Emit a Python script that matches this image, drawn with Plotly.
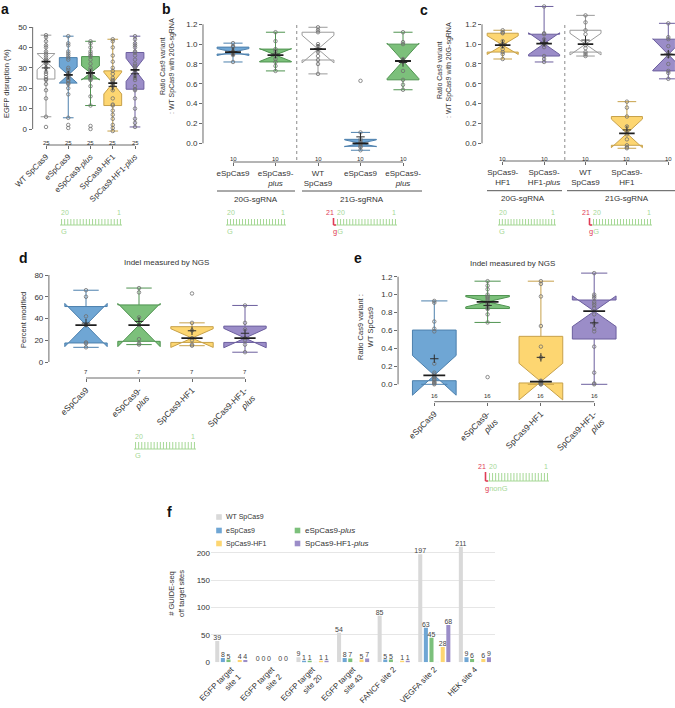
import numpy as np
import plotly.graph_objects as go

W, H = 675, 708
FONT = "Liberation Sans, Arial, Helvetica, sans-serif"

# ---------------- data ----------------
# a: EGFP disruption (%), n = 25 per variant
a_categories = ["WT SpCas9", "eSpCas9", "eSpCas9-<i>plus</i>", "SpCas9-HF1", "SpCas9-HF1-<i>plus</i>"]
a_wt_spcas9 = [46, 45, 43, 41, 40, 38, 37, 36, 35, 34, 33.5, 33, 33, 32, 30, 28, 27, 25.5, 24.5, 24, 22, 19, 15, 6, 1]
a_espcas9 = [45.5, 42, 41, 38, 37, 36, 35, 34, 30, 29, 27.5, 27, 26.5, 26, 25.5, 25, 24, 23.5, 22.5, 22, 20, 17, 5.5, 2, 0.5]
a_espcas9_plus = [43, 42, 40, 38, 37, 36, 35.5, 34, 32, 30, 29, 28, 27.5, 27, 26.5, 26, 25.5, 25, 24.5, 24, 21, 16, 11.5, 1.5, 0]
a_spcas9_hf1 = [44, 43, 40, 36, 33, 30, 28.5, 27, 25, 24, 23.5, 23, 22.5, 22, 21, 19, 15, 12, 11.5, 9, 7, 5, 2, 0.5, -1]
a_spcas9_hf1_plus = [45.5, 44, 42, 41, 40, 38, 37.5, 36, 34, 32, 31, 30, 29, 28, 26, 25, 24, 21, 19.5, 19, 15, 10, 5, 3, 1]
a_yticks = [0, 10, 20, 30, 40, 50]

# b: ratio to WT SpCas9 with 20G-sgRNA (eSpCas9 family), n = 10
b_categories = ["eSpCas9", "eSpCas9-<br><i>plus</i>", "WT<br>SpCas9", "eSpCas9", "eSpCas9-<br><i>plus</i>"]
b_espcas9_20g = [0.82, 0.89, 0.90, 0.91, 0.92, 0.92, 0.93, 0.97, 0.98, 1.01]
b_espcas9_plus_20g = [0.73, 0.78, 0.82, 0.85, 0.88, 0.90, 0.93, 0.95, 1.03, 1.12]
b_wt_21g = [0.70, 0.80, 0.84, 0.88, 0.92, 0.98, 1.00, 1.12, 1.14, 1.17]
b_espcas9_21g = [-0.07, -0.04, -0.03, -0.01, 0.0, 0.0, 0.02, 0.04, 0.11, 0.63]
b_espcas9_plus_21g = [0.54, 0.59, 0.64, 0.73, 0.82, 0.84, 0.85, 1.00, 1.02, 1.12]

# c: ratio to WT SpCas9 with 20G-sgRNA (SpCas9-HF1 family), n = 10
c_categories = ["SpCas9-<br>HF1", "SpCas9-<br>HF1-<i>plus</i>", "WT<br>SpCas9", "SpCas9-<br>HF1", "SpCas9-<br>HF1-<i>plus</i>"]
c_hf1_20g = [0.85, 0.90, 0.92, 0.95, 0.98, 1.00, 1.03, 1.11, 1.12, 1.14]
c_hf1_plus_20g = [0.82, 0.85, 0.88, 0.97, 1.00, 1.01, 1.05, 1.10, 1.11, 1.38]
c_wt_21g = [0.88, 0.90, 0.92, 0.96, 0.99, 1.01, 1.10, 1.14, 1.22, 1.29]
c_hf1_21g = [-0.05, -0.04, -0.02, 0.04, 0.09, 0.11, 0.17, 0.27, 0.36, 0.42]
c_hf1_plus_21g = [0.65, 0.71, 0.73, 0.80, 0.88, 0.91, 0.98, 1.05, 1.07, 1.21]
bc_yticks = [0.0, 0.2, 0.4, 0.6, 0.8, 1.0, 1.2]
bc_groups = ["20G-sgRNA", "21G-sgRNA"]

# d: percent modified (NGS), n = 7
d_categories = ["eSpCas9", "eSpCas9-<br><i>plus</i>", "SpCas9-HF1", "SpCas9-HF1-<br><i>plus</i>"]
d_espcas9 = [13.5, 17, 18, 34, 42, 60, 66]
d_espcas9_plus = [16, 17, 21, 34, 41, 64, 68]
d_spcas9_hf1 = [15, 16, 20, 22, 29, 36, 63]
d_spcas9_hf1_plus = [9, 16, 20, 22, 30, 36, 52]
d_yticks = [0, 20, 40, 60, 80]

# e: ratio Cas9 variant : WT SpCas9 (NGS), n = 16
e_categories = d_categories
e_espcas9 = [0.0, 0.01, 0.02, 0.03, 0.05, 0.06, 0.08, 0.09, 0.11, 0.13, 0.23, 0.59, 0.62, 0.70, 0.91, 0.93]
e_espcas9_plus = [0.08, 0.69, 0.78, 0.84, 0.85, 0.88, 0.90, 0.91, 0.93, 0.95, 0.97, 0.98, 1.00, 1.06, 1.10, 1.15]
e_spcas9_hf1 = [0.0, 0.0, 0.01, 0.01, 0.02, 0.02, 0.03, 0.03, 0.03, 0.04, 0.30, 0.42, 0.65, 0.98, 1.12, 1.15]
e_spcas9_hf1_plus = [0.0, 0.01, 0.13, 0.42, 0.59, 0.62, 0.68, 0.78, 0.85, 0.88, 0.90, 0.92, 0.96, 0.98, 1.00, 1.24]
e_yticks = [0.0, 0.2, 0.4, 0.6, 0.8, 1.0, 1.2]

# f: GUIDE-seq off-target site counts
f_sites = ["EGFP target<br>site 1", "EGFP target<br>site 2", "EGFP target<br>site 20", "EGFP target<br>site 43",
           "FANCF site 2", "VEGFA site 2", "HEK site 4"]
f_wt_spcas9 = [39, 0, 9, 54, 85, 197, 211]
f_espcas9 = [8, 0, 1, 8, 5, 63, 9]
f_espcas9_plus = [5, 0, 1, 7, 5, 45, 6]
f_spcas9_hf1 = [4, 0, 1, 5, 1, 28, 6]
f_spcas9_hf1_plus = [4, 0, 1, 7, 1, 68, 9]
f_yticks = [0, 50, 100, 150, 200]
f_series_names = ["WT SpCas9", "eSpCas9", "eSpCas9-<i>plus</i>", "SpCas9-HF1", "SpCas9-HF1-<i>plus</i>"]

# ---------------- styles ----------------
STY = {
    "wt": ("#ffffff", "#9b9b9b"),
    "e": ("#6fa6d4", "#4d80ad"),
    "ep": ("#7cc07b", "#4f9350"),
    "h": ("#fdd671", "#c7a14a"),
    "hp": ("#9b8dc8", "#6c5f9e"),
}
BAR_COL = {"wt": "#d9d9d9", "e": "#6fa6d4", "ep": "#7cc07b", "h": "#fdd671", "hp": "#9b8dc8"}
AX = "#6a6a6a"
TXT = "#333333"
GREEN = "#a6d896"
RED = "#e03c55"


def lin(v, v0, p0, v1, p1):
    return p0 + (v - v0) * (p1 - p0) / (v1 - v0)


def PX(p):
    return p / W


def PY(p):
    return 1 - p / H


def sfx(k):
    return "" if k == 1 else str(k)


fig = go.Figure()
layout = dict(width=W, height=H, margin=dict(l=0, r=0, t=0, b=0), paper_bgcolor="white",
              plot_bgcolor="rgba(0,0,0,0)", showlegend=False, font=dict(family=FONT, color=TXT, size=8))
shapes = []
annotations = []


def ann(text, x, y, size=8, color=TXT, xanchor="center", yanchor="middle", angle=0):
    annotations.append(dict(text=text, x=PX(x), y=PY(y), xref="paper", yref="paper", showarrow=False,
                            font=dict(size=size, color=color, family=FONT), xanchor=xanchor,
                            yanchor=yanchor, textangle=angle))


box_panels = [
    dict(k=1, series=[(a_wt_spcas9, "wt"), (a_espcas9, "e"), (a_espcas9_plus, "ep"), (a_spcas9_hf1, "h"),
                      (a_spcas9_hf1_plus, "hp")], cats=a_categories, ticks=a_yticks, tfmt="",
         ymap=(0, 129, 50, 27), yr=(-4, 53), c0=46, dx=22.25, xr=(-0.6, 4.6), xy=145, bw=0.8,
         angle=-45, nlab_y=137.5, tsize=8),
    dict(k=2, series=[(b_espcas9_20g, "e"), (b_espcas9_plus_20g, "ep"), (b_wt_21g, "wt"), (b_espcas9_21g, "e"),
                      (b_espcas9_plus_21g, "ep")], cats=b_categories, ticks=bc_yticks, tfmt=".1f",
         ymap=(0, 143.3, 1.2, 24.3), yr=(-0.12, 1.25), c0=233, dx=42.5, xr=(-0.706, 4.6), xy=162, bw=0.75,
         angle=0, nlab_y=154, tsize=8),
    dict(k=3, series=[(c_hf1_20g, "h"), (c_hf1_plus_20g, "hp"), (c_wt_21g, "wt"), (c_hf1_21g, "h"),
                      (c_hf1_plus_21g, "hp")], cats=c_categories, ticks=bc_yticks, tfmt=".1f",
         ymap=(0, 143.3, 1.2, 24.3), yr=(-0.12, 1.42), c0=502.7, dx=41.4, xr=(-0.5, 4.16), xy=161, bw=0.75,
         angle=0, nlab_y=154, tsize=8),
    dict(k=4, series=[(d_espcas9, "e"), (d_espcas9_plus, "ep"), (d_spcas9_hf1, "h"), (d_spcas9_hf1_plus, "hp")],
         cats=d_categories, ticks=d_yticks, tfmt="",
         ymap=(0, 362, 80, 275), yr=(-4, 84), c0=86, dx=53, xr=(-0.7, 3.6), xy=378, bw=0.8,
         angle=-45, nlab_y=372, tsize=8.5),
    dict(k=5, series=[(e_espcas9, "e"), (e_espcas9_plus, "ep"), (e_spcas9_hf1, "h"), (e_spcas9_hf1_plus, "hp")],
         cats=e_categories, ticks=e_yticks, tfmt=".1f",
         ymap=(0, 384.3, 1.2, 276.7), yr=(-0.2, 1.27), c0=434.3, dx=53.3, xr=(-0.68, 3.6), xy=401.7, bw=0.82,
         angle=-45, nlab_y=396, tsize=8.5),
]

for p in box_panels:
    k = p["k"]
    s = sfx(k)
    v0, p0, v1, p1 = p["ymap"]
    ybot = lin(p["yr"][0], v0, p0, v1, p1)
    ytop = lin(p["yr"][1], v0, p0, v1, p1)
    xl = p["c0"] + p["xr"][0] * p["dx"]
    xrr = min(W, p["c0"] + p["xr"][1] * p["dx"])
    n = len(p["series"])
    layout["yaxis" + s] = dict(domain=[PY(ybot), PY(ytop)], range=list(p["yr"]), anchor="x" + s,
                               tickvals=p["ticks"], tickformat=p["tfmt"], showgrid=False, zeroline=False,
                               showline=False, ticks="outside", ticklen=3, tickcolor=AX, tickwidth=1,
                               tickfont=dict(size=8, color=TXT), automargin=False)
    layout["xaxis" + s] = dict(domain=[PX(xl), PX(xrr)], range=[p["xr"][0], (xrr - p["c0"]) / p["dx"]],
                               anchor="free", position=PY(p["xy"]), tickvals=list(range(n)),
                               ticktext=p["cats"], tickangle=p["angle"], showgrid=False, zeroline=False,
                               showline=False, ticks="outside", ticklen=3, tickcolor=AX, tickwidth=1,
                               tickfont=dict(size=p["tsize"], color=TXT), automargin=False)
    # R-style axis lines spanning first..last tick
    shapes.append(dict(type="line", xref="x" + s + " domain", yref="y" + s, x0=0, x1=0,
                       y0=p["ticks"][0], y1=p["ticks"][-1], line=dict(color=AX, width=1)))
    shapes.append(dict(type="line", xref="x" + s, yref="paper", x0=0, x1=n - 1, y0=PY(p["xy"]),
                       y1=PY(p["xy"]), line=dict(color=AX, width=1)))
    for i, (vals, key) in enumerate(p["series"]):
        fill, lc = STY[key]
        fig.add_trace(go.Box(x=[i] * len(vals), y=vals, xaxis="x" + s, yaxis="y" + s, width=p["bw"],
                             notched=True, notchwidth=0.5, fillcolor=fill, line=dict(color=lc, width=1),
                             whiskerwidth=0.6, boxpoints="all", jitter=0, pointpos=0,
                             quartilemethod="inclusive",
                             marker=dict(symbol="circle-open", size=3.5, color="#707070", line=dict(width=0.8)),
                             showlegend=False, hoverinfo="skip"))
        med = float(np.median(vals))
        fig.add_trace(go.Scatter(x=[i - p["bw"] / 4, i + p["bw"] / 4], y=[med, med], mode="lines",
                                 xaxis="x" + s, yaxis="y" + s, line=dict(color="#1e1e1e", width=1.8),
                                 showlegend=False, hoverinfo="skip"))
        fig.add_trace(go.Scatter(x=[i], y=[float(np.mean(vals))], mode="markers", xaxis="x" + s, yaxis="y" + s,
                                 marker=dict(symbol="cross-thin", size=6, color="#2b2b2b",
                                             line=dict(color="#2b2b2b", width=1)),
                                 showlegend=False, hoverinfo="skip"))
        annotations.append(dict(text=str(len(vals)), x=i, y=PY(p["nlab_y"]), xref="x" + s, yref="paper",
                                showarrow=False, font=dict(size=6, color=TXT, family=FONT)))

# separators in b and c (between 20G and 21G groups)
for k in (2, 3):
    s = sfx(k)
    shapes.append(dict(type="line", xref="x" + s, yref="paper", x0=1.5, x1=1.5, y0=PY(160), y1=PY(25),
                       line=dict(color="#8a8a8a", width=1, dash="dot")))

# group bars under b and c
for (x0, x1, lab, cx, yy, ly) in [(217, 295, bc_groups[0], 256, 191, 199), (302, 422, bc_groups[1], 362, 191, 199),
                                  (487, 562, bc_groups[0], 523, 190.7, 198.5), (567, 675, bc_groups[1], 627, 190.7, 198.5)]:
    shapes.append(dict(type="line", xref="paper", yref="paper", x0=PX(x0), x1=PX(x1), y0=PY(yy), y1=PY(yy),
                       line=dict(color="#555555", width=1)))
    ann(lab, cx, ly, size=8)

# ---------------- panel f: bars ----------------
f_c0, f_dx = 231.3, 40.6
f_xr = (-0.5, 6.5)
f_ymap = (0, 662.3, 200, 552.7)
f_yr = (0, 218)
layout["yaxis6"] = dict(domain=[PY(lin(f_yr[0], *f_ymap)), PY(lin(f_yr[1], *f_ymap))], range=list(f_yr),
                        anchor="x6", tickvals=f_yticks, showgrid=True, gridcolor="#e6e6e6", gridwidth=1,
                        zeroline=False, showline=False, ticks="", tickfont=dict(size=8, color=TXT),
                        automargin=False)
layout["xaxis6"] = dict(domain=[PX(f_c0 + f_xr[0] * f_dx), PX(f_c0 + f_xr[1] * f_dx)], range=list(f_xr),
                        anchor="y6", tickvals=list(range(len(f_sites))), ticktext=f_sites, tickangle=-45,
                        showgrid=False, zeroline=False, showline=False, ticks="",
                        tickfont=dict(size=8, color=TXT), automargin=False)
f_series = [(f_wt_spcas9, "wt"), (f_espcas9, "e"), (f_espcas9_plus, "ep"), (None, None),
            (f_spcas9_hf1, "h"), (f_spcas9_hf1_plus, "hp")]
for vals, key in f_series:
    if vals is None:
        fig.add_trace(go.Bar(x=list(range(len(f_sites))), y=[0] * len(f_sites), xaxis="x6", yaxis="y6",
                             marker=dict(color="rgba(0,0,0,0)"), showlegend=False, hoverinfo="skip"))
        continue
    fig.add_trace(go.Bar(x=list(range(len(f_sites))), y=vals, xaxis="x6", yaxis="y6",
                         marker=dict(color=BAR_COL[key], line=dict(width=0)), text=[str(v) for v in vals],
                         textposition="outside", textfont=dict(size=7, color="#444444", family=FONT),
                         cliponaxis=False, constraintext="none", showlegend=False, hoverinfo="skip"))
layout.update(barmode="group", bargap=0.17, bargroupgap=0.28)

# manual legend for f
for name, key, lx, ly, fs in [(f_series_names[0], "wt", 219, 517, 7), (f_series_names[1], "e", 219, 530.5, 7),
                               (f_series_names[3], "h", 219, 543.5, 7), (f_series_names[2], "ep", 297.5, 530.5, 8),
                               (f_series_names[4], "hp", 297.5, 543.5, 8)]:
    shapes.append(dict(type="rect", xref="paper", yref="paper", x0=PX(lx - 2.8), x1=PX(lx + 2.8),
                       y0=PY(ly + 2.8), y1=PY(ly - 2.8), fillcolor=BAR_COL[key], line=dict(width=0)))
    ann(name, lx + 5, ly, size=fs, xanchor="left")


# ---------------- sgRNA diagrams ----------------
def guide(x0, x1, ytop, ybot, ynum, ylet, g21=False, lower="G"):
    shapes.append(dict(type="line", xref="paper", yref="paper", x0=PX(x0), x1=PX(x1), y0=PY(ybot), y1=PY(ybot),
                       line=dict(color=GREEN, width=1)))
    for t in range(20):
        xx = x0 + (t + 0.5) * (x1 - x0) / 20
        shapes.append(dict(type="line", xref="paper", yref="paper", x0=PX(xx), x1=PX(xx), y0=PY(ytop),
                           y1=PY(ybot), line=dict(color=GREEN, width=1)))
    ann("20", x0 - 1, ynum, size=7, color=GREEN, xanchor="left")
    ann("1", x1 + 1, ynum, size=7, color=GREEN, xanchor="right")
    if g21:
        xL = x0 - 2.5
        shapes.append(dict(type="line", xref="paper", yref="paper", x0=PX(xL), x1=PX(xL), y0=PY(ybot),
                           y1=PY(ytop - 1), line=dict(color=RED, width=1.6)))
        shapes.append(dict(type="line", xref="paper", yref="paper", x0=PX(xL), x1=PX(x0), y0=PY(ybot),
                           y1=PY(ybot), line=dict(color=RED, width=1.6)))
        ann("21", xL + 2, ynum, size=7, color=RED, xanchor="right")
        ann('<span style="color:%s">g</span><span style="color:%s">%s</span>' % (RED, GREEN, lower),
            xL - 3, ylet, size=7.5, xanchor="left")
    else:
        ann(lower, x0 - 1.5, ylet, size=7.5, color=GREEN, xanchor="left")


guide(60, 122, 219, 225, 213, 232)
guide(226, 286, 219, 225, 213, 232)
guide(336, 397, 219, 225, 213, 232, g21=True)
guide(498, 556, 219, 225, 213, 232)
guide(592, 652, 219, 225, 213, 232, g21=True)
guide(134, 196, 442, 449, 436, 455)
guide(488, 549, 473, 481, 467, 488, g21=True, lower="nonG")

# ---------------- titles, axis labels, panel letters ----------------
ann("Indel measured by NGS", 166, 262.7, size=8)
ann("Indel measured by NGS", 512.7, 263.3, size=8)
ann("EGFP disruption (%)", 6, 84, size=7.5, angle=-90)
ann("Ratio Cas9 variant<br>: WT SpCas9 with 20G-sgRNA", 168, 66, size=7, angle=-90)
ann("Ratio Cas9 variant<br>: WT SpCas9 with 20G-sgRNA", 444, 70, size=7, angle=-90)
ann("Percent modified", 23, 320, size=7.5, angle=-90)
ann("Ratio Cas9 variant :<br>WT SpCas9", 365, 327, size=7.5, angle=-90)
ann("# GUIDE-seq<br>off target sites", 176, 593, size=7.5, angle=-90)
for letter, lx, ly in [("a", 5, 9), ("b", 166, 9), ("c", 424, 10), ("d", 23, 258), ("e", 358, 258), ("f", 169, 512)]:
    ann("<b>%s</b>" % letter, lx, ly, size=14, color="#111111")

layout["shapes"] = shapes
layout["annotations"] = annotations
fig.update_layout(**layout)
fig.write_html("out.html", config={"displayModeBar": False},
               post_script="document.body.style.margin='0';document.body.style.overflow='hidden';")
